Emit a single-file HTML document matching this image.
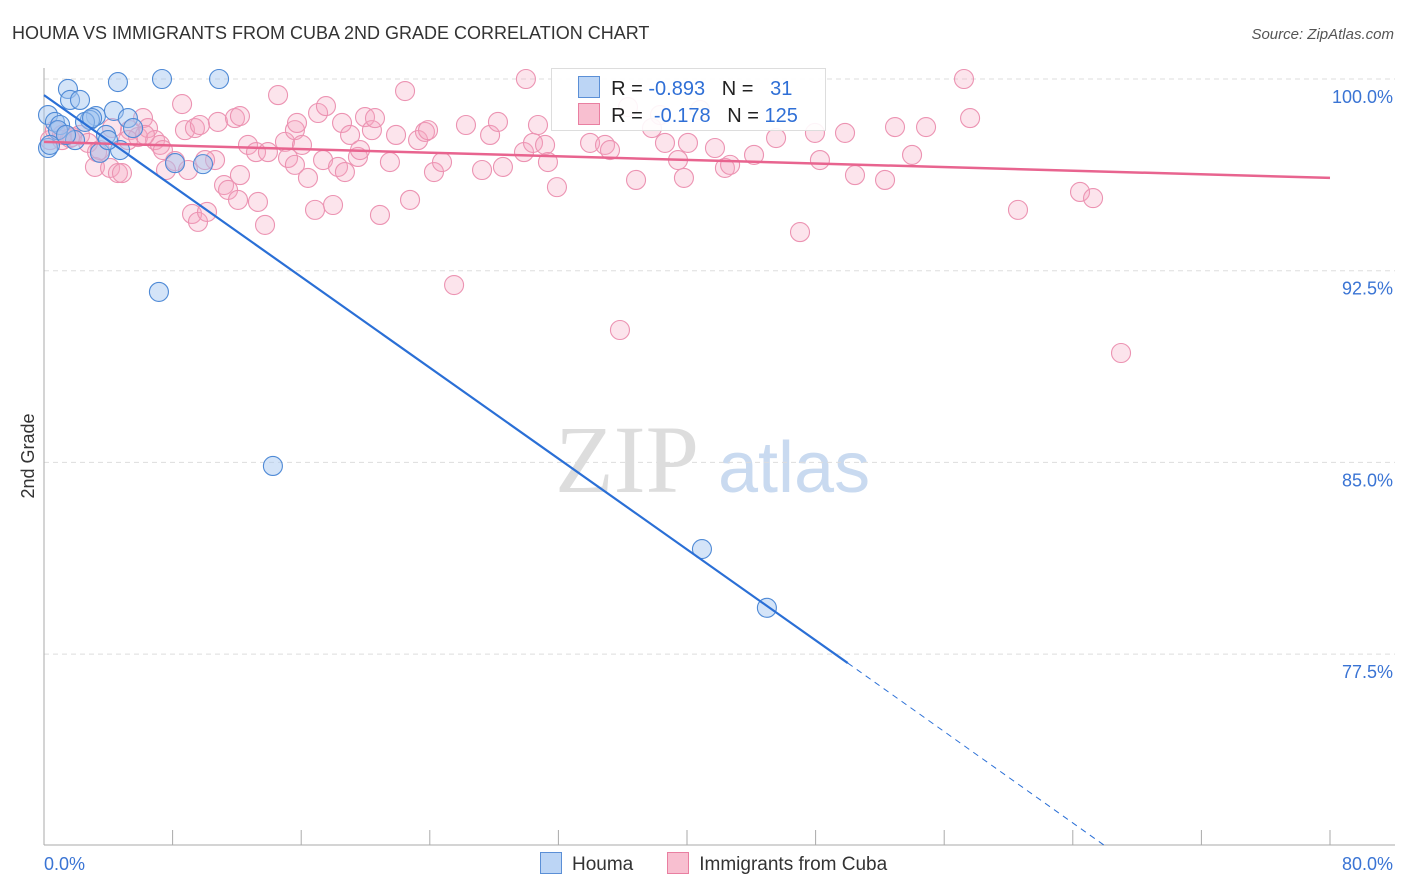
<!DOCTYPE html>
<html><head><meta charset="utf-8">
<style>
body{margin:0;background:#fff;font-family:"Liberation Sans",sans-serif;}
#wrap{position:relative;width:1406px;height:892px;overflow:hidden;}
svg{position:absolute;left:0;top:0;}
.sw{display:inline-block;width:20px;height:20px;vertical-align:-4px;margin-right:10px;}
</style></head>
<body><div id="wrap">
<svg id="chart" width="1406" height="892">
<text x="12" y="39" font-size="18" fill="#333">HOUMA VS IMMIGRANTS FROM CUBA 2ND GRADE CORRELATION CHART</text>
<text x="1394" y="39" font-size="15" fill="#555" text-anchor="end" font-style="italic">Source: ZipAtlas.com</text>
<text x="34" y="456" font-size="18" fill="#333" text-anchor="middle" transform="rotate(-90 34 456)">2nd Grade</text>
<text x="555" y="492" font-size="96" fill="#ddd" font-family="Liberation Serif,serif">ZIP</text>
<text x="718" y="492" font-size="72" fill="#c9daf0">atlas</text>
<g id="grid"></g><g id="marks"></g>
</svg>
<div style="position:absolute;left:551px;top:68px;width:273px;height:61px;border:1px solid #ddd;background:rgba(255,255,255,0.9);font-size:20px;">
<div style="position:absolute;left:26px;top:7px;white-space:pre"><span style="display:inline-block;width:20px;height:20px;background:#bcd5f5;border:1px solid #5b8fd6;vertical-align:-3px"></span>  <span style="color:#222">R = </span><span style="color:#2f6fd6">-0.893</span><span style="color:#222">   N = </span><span style="color:#2f6fd6">  31</span></div>
<div style="position:absolute;left:26px;top:34px;white-space:pre"><span style="display:inline-block;width:20px;height:20px;background:#f8bfd0;border:1px solid #e97fa1;vertical-align:-3px"></span>  <span style="color:#222">R = </span><span style="color:#2f6fd6"> -0.178</span><span style="color:#222">   N = </span><span style="color:#2f6fd6">125</span></div>
</div>
<div style="position:absolute;left:540px;top:852px;font-size:19px;color:#333;white-space:nowrap"><span><span class="sw" style="background:#bcd5f5;border:1px solid #5b8fd6"></span>Houma</span><span style="margin-left:34px"><span class="sw" style="background:#f8bfd0;border:1px solid #e97fa1"></span>Immigrants from Cuba</span></div>
</div>
<script>
const yTicks=[100,92.5,85,77.5];
const yTickLabels=["100.0%","92.5%","85.0%","77.5%"];
const xTickVals=[0,8,16,24,32,40,48,56,64,72,80];
const xEndLabels=["0.0%","80.0%"];
const houmaX=[1.49,0.25,0.68,1.62,2.24,4.60,7.34,10.89,3.23,4.35,2.86,5.22,0.25,1.00,1.93,2.55,3.48,3.86,4.73,5.54,8.15,9.89,7.15,14.24,40.93,44.97,0.87,1.37,3.98,2.99,0.37];
const houmaY=[99.61,98.59,98.32,99.18,99.18,99.88,100,100,98.55,98.75,98.40,98.47,97.30,98.20,97.61,98.32,97.11,97.81,97.22,98.08,96.71,96.67,91.67,84.86,81.61,79.31,98.00,97.81,97.61,98.47,97.42];
const cubaX=[0.37,0.68,1.12,1.74,2.24,2.74,3.17,3.30,4.11,4.60,4.85,5.35,5.85,6.16,6.47,6.91,7.22,7.59,8.15,8.59,8.77,9.21,9.39,9.58,10.14,10.64,10.82,11.20,11.45,11.88,12.19,12.07,12.69,13.19,13.31,13.75,13.93,14.56,14.99,15.18,15.61,15.74,16.05,16.42,16.86,17.05,17.54,17.36,17.98,18.29,18.54,18.72,19.04,19.53,19.66,19.97,20.40,20.59,20.90,21.52,21.90,22.46,22.77,23.27,23.70,23.89,24.26,24.76,25.51,26.25,27.25,27.75,28.24,28.55,29.86,29.98,30.42,30.73,31.17,31.35,31.91,33.97,34.90,35.21,35.83,36.33,36.83,37.82,38.32,38.63,39.44,39.81,40.06,40.81,41.74,42.36,42.68,44.17,45.54,47.03,47.96,48.27,49.83,50.45,52.32,52.94,54.00,54.87,57.23,57.61,60.59,64.45,65.26,67.00,1.12,1.62,3.48,4.23,5.23,6.28,10.02,12.19,15.61,8.96,7.40,9.70];
const cubaY=[97.61,98.00,97.81,97.73,97.81,97.50,96.56,97.14,96.52,96.32,96.32,98.00,97.73,98.47,98.08,97.61,97.42,96.44,96.79,99.02,98.00,94.72,98.08,94.41,94.80,96.83,98.32,95.85,95.66,98.47,98.55,95.27,97.42,97.14,95.19,94.29,97.14,99.37,97.54,96.91,98.00,98.28,97.42,96.13,94.88,98.67,98.94,96.83,95.07,96.56,98.28,96.36,97.81,96.95,97.22,98.51,98.00,98.47,94.68,96.75,97.81,99.53,95.27,97.61,97.93,98.00,96.36,96.75,91.94,98.20,96.44,97.81,98.32,96.56,97.14,100,97.50,98.20,97.42,96.75,95.77,97.50,97.42,97.22,90.18,98.90,96.05,98.08,98.59,97.50,96.83,96.13,97.50,98.79,97.30,96.52,96.64,97.03,97.69,94.01,97.89,96.83,97.89,96.24,96.05,98.12,97.03,98.12,100,98.47,94.88,95.58,95.34,89.28,97.61,97.69,97.22,98.08,97.61,97.81,96.83,96.24,96.64,96.44,97.22,98.20];
const houmaTrend=[[0,99.37],[50,77.15],[66,70.0]];
const cubaTrend=[[0,97.54],[80,96.13]];
const NS="http://www.w3.org/2000/svg";
const X=v=>44+v/80*1286, Y=v=>79+(100-v)/7.5*191.7;
function mk(t,a,p){const e=document.createElementNS(NS,t);for(const k in a)e.setAttribute(k,a[k]);p.appendChild(e);return e;}
const grid=document.getElementById('grid'),marks=document.getElementById('marks');
yTicks.forEach((t,i)=>{
 const l=mk('line',{x1:44,x2:1395,y1:Y(t),y2:Y(t),stroke:'#ddd','stroke-dasharray':'5,4'},grid);
 
 
 const tx=mk('text',{x:1393,y:Y(t)+24,'font-size':18,fill:'#3a74d4','text-anchor':'end'},grid);
 tx.textContent=yTickLabels[i];
 
 
});
const ax=mk('line',{x1:44,x2:44,y1:68,y2:845,stroke:'#aaa'},grid);


const bx=mk('line',{x1:44,x2:1395,y1:845,y2:845,stroke:'#aaa'},grid);


xTickVals.forEach(v=>{
 const t=mk('line',{x1:X(v),x2:X(v),y1:830,y2:845,stroke:'#aaa'},grid);
 
 
});
[[0,'start',44],[80,'end',1393]].forEach((d,i)=>{
 const t=mk('text',{x:d[2],y:870,'font-size':18,fill:'#3a74d4','text-anchor':d[1]},grid);
 t.textContent=xEndLabels[i];
 
 
});
cubaX.forEach((v,i)=>{
 const c=mk('circle',{cx:X(v),cy:Y(cubaY[i]),r:9.5,fill:'rgba(245,165,192,0.3)',stroke:'#ec93b2','stroke-width':1.1},marks);
 
 
});
houmaX.forEach((v,i)=>{
 const c=mk('circle',{cx:X(v),cy:Y(houmaY[i]),r:9.5,fill:'rgba(160,196,240,0.45)',stroke:'#4f8ad6','stroke-width':1.1},marks);
 
 
});
const ct=mk('line',{x1:X(cubaTrend[0][0]),y1:Y(cubaTrend[0][1]),x2:X(cubaTrend[1][0]),y2:Y(cubaTrend[1][1]),stroke:'#e8648f','stroke-width':2.5},marks);


const ht=mk('line',{x1:X(houmaTrend[0][0]),y1:Y(houmaTrend[0][1]),x2:X(houmaTrend[1][0]),y2:Y(houmaTrend[1][1]),stroke:'#2a6fd6','stroke-width':2.2},marks);


const hd=mk('line',{x1:X(houmaTrend[1][0]),y1:Y(houmaTrend[1][1]),x2:X(houmaTrend[2][0]),y2:Y(houmaTrend[2][1]),stroke:'#2a6fd6','stroke-width':1,'stroke-dasharray':'6,5'},marks);


</script>
</body></html>
